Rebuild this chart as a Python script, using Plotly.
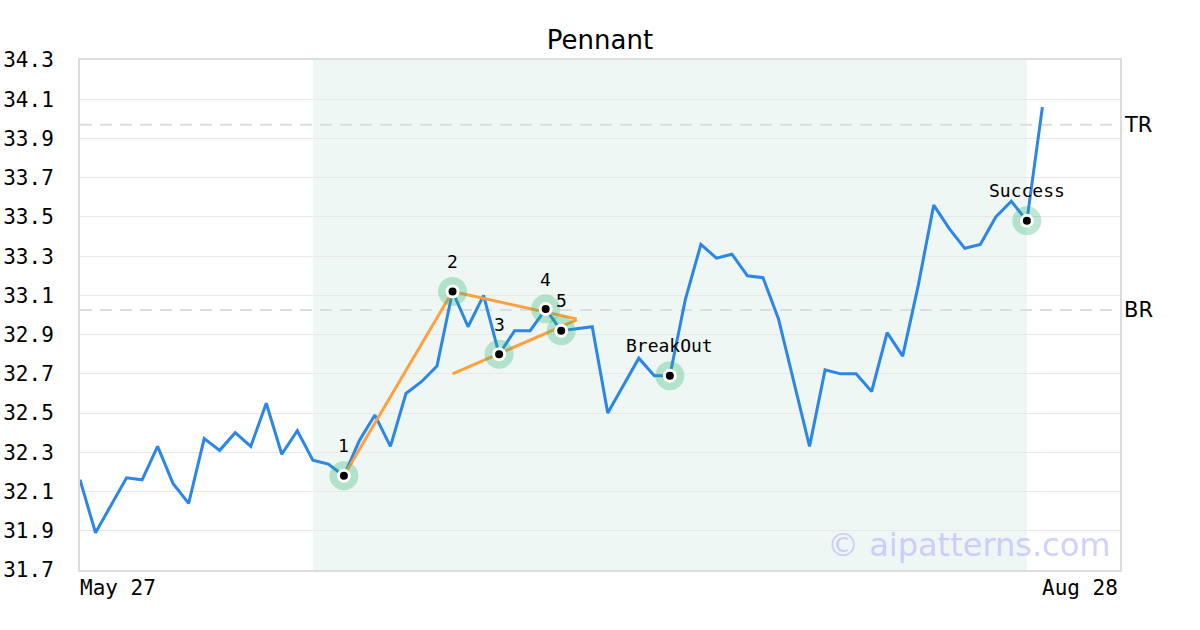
import plotly.graph_objects as go

# ---- data ----
x_labels = ["May 27", "Aug 28"]
prices = [32.16, 31.89, 32.03, 32.17, 32.16, 32.33, 32.14, 32.04, 32.37, 32.31,
          32.40, 32.33, 32.55, 32.29, 32.41, 32.26, 32.24, 32.18, 32.36, 32.49,
          32.33, 32.60, 32.66, 32.74, 33.12, 32.94, 33.10, 32.80, 32.92, 32.92,
          33.03, 32.92, 32.93, 32.94, 32.50, 32.64, 32.78, 32.69, 32.69, 33.08,
          33.36, 33.29, 33.31, 33.20, 33.19, 32.98, 32.66, 32.33, 32.72, 32.70,
          32.70, 32.61, 32.91, 32.79, 33.15, 33.56, 33.44, 33.34, 33.36, 33.50,
          33.58, 33.48, 34.06]
pivot_idx = [17, 24, 27, 30, 31]
pivot_labels = ["1", "2", "3", "4", "5"]
event_idx = [38, 61]
event_labels = ["BreakOut", "Success"]
pole_x = [17, 24]
pole_y = [32.18, 33.12]
upper_x = [24, 32]
upper_y = [33.12, 32.98]
lower_x = [24, 32]
lower_y = [32.70, 32.975]
zone = [15, 61]
levels = {"TR": 33.97, "BR": 33.025}
x_max = 67
y_ticks = [round(31.7 + 0.2 * i, 1) for i in range(14)]

MONO = "DejaVu Sans Mono"
SANS = "DejaVu Sans"
BLUE = "#2a86e8"
ORANGE = "#ff9f40"

xs = list(range(len(prices)))
fig = go.Figure()

fig.add_trace(go.Scatter(x=xs, y=prices, mode="lines",
                         line=dict(color=BLUE, width=3), hoverinfo="skip"))
for lx, ly in [(pole_x, pole_y), (upper_x, upper_y), (lower_x, lower_y)]:
    fig.add_trace(go.Scatter(x=lx, y=ly, mode="lines",
                             line=dict(color=ORANGE, width=3), hoverinfo="skip"))

mk_idx = pivot_idx + event_idx
mk_x = mk_idx
mk_y = [prices[i] for i in mk_idx]
fig.add_trace(go.Scatter(x=mk_x, y=mk_y, mode="markers",
                         marker=dict(size=29, color="rgba(40,180,110,0.3)", line=dict(width=0)),
                         hoverinfo="skip"))
fig.add_trace(go.Scatter(x=mk_x, y=mk_y, mode="markers",
                         marker=dict(size=14, color="white", line=dict(width=0)),
                         hoverinfo="skip"))
fig.add_trace(go.Scatter(x=mk_x, y=mk_y, mode="markers",
                         marker=dict(size=8, color="black", line=dict(width=0)),
                         hoverinfo="skip"))

fig.add_shape(type="rect", xref="x", yref="paper", x0=zone[0], x1=zone[1], y0=0, y1=1,
              fillcolor="#eff7f4", line=dict(width=0), layer="below")

annotations = []
for name, val in levels.items():
    fig.add_shape(type="line", xref="paper", yref="y", x0=0, x1=1, y0=val, y1=val,
                  line=dict(color="#dddddd", width=2, dash="12px,8px"), layer="between")
    annotations.append(dict(x=1, xref="paper", y=val, yref="y", text=name,
                            showarrow=False, xanchor="left", yanchor="middle", xshift=2,
                            font=dict(family=SANS, size=21, color="black")))

for i, t in zip(pivot_idx + event_idx, pivot_labels + event_labels):
    annotations.append(dict(x=i, y=prices[i], text=t, showarrow=False,
                            xanchor="center", yanchor="middle", yshift=30,
                            font=dict(family=MONO, size=18, color="black")))

annotations.append(dict(x=0, xref="x", y=0, yref="paper", text=x_labels[0],
                        showarrow=False, xanchor="left", yanchor="top", yshift=-4, xshift=-2,
                        font=dict(family=MONO, size=21, color="black")))
annotations.append(dict(x=x_max, xref="x", y=0, yref="paper", text=x_labels[1],
                        showarrow=False, xanchor="right", yanchor="top", yshift=-4,
                        font=dict(family=MONO, size=21, color="black")))
annotations.append(dict(x=0.9925, xref="paper", y=0.05, yref="paper", text="© aipatterns.com",
                        showarrow=False, xanchor="right", yanchor="middle",
                        font=dict(family=SANS, size=32, color="rgba(170,170,255,0.55)")))

fig.update_layout(
    width=1200, height=630,
    margin=dict(l=80, r=80, t=60, b=60, autoexpand=False),
    paper_bgcolor="white", plot_bgcolor="white",
    showlegend=False,
    title=dict(text="Pennant", x=0.5, xanchor="center", y=0.937, yanchor="middle",
               font=dict(family=SANS, size=26, color="black")),
    annotations=annotations,
    font=dict(family=MONO),
)
fig.update_xaxes(range=[0, x_max], showgrid=False, zeroline=False, showticklabels=False,
                 showline=True, mirror=True, linecolor="#dddddd", linewidth=2, ticks="",
                 automargin=False)
fig.update_yaxes(range=[31.7, 34.3], tickvals=y_ticks, ticktext=[f"{v:.1f}" for v in y_ticks],
                 showgrid=True, gridcolor="#e8e8e8", gridwidth=1, zeroline=False,
                 showline=True, mirror=True, linecolor="#dddddd", linewidth=2,
                 ticks="", ticklabelstandoff=20, automargin=False,
                 tickfont=dict(family=MONO, size=21, color="black"))

fig.write_html("out.html", config={"displayModeBar": False},
               post_script="document.body.style.margin='0';")
